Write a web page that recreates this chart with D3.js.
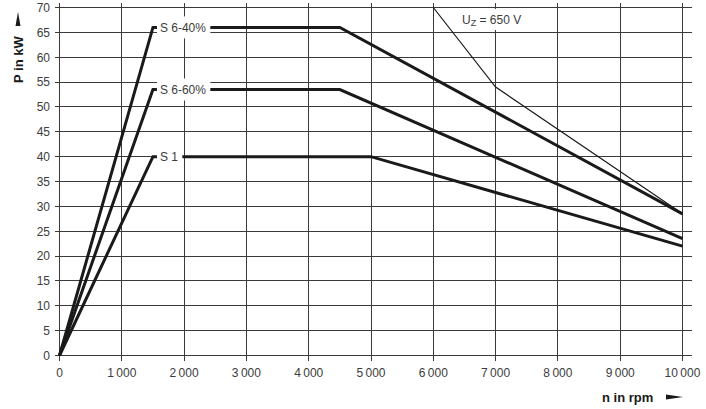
<!DOCTYPE html>
<html><head><meta charset="utf-8">
<script src="https://cdn.jsdelivr.net/npm/d3@7"></script>
<style>body{margin:0;background:#fff}svg{display:block}</style>
</head><body>
<svg id="c" width="706" height="409"></svg>
<script>
const xTicks = [0,1000,2000,3000,4000,5000,6000,7000,8000,9000,10000];
const xTickLabels = ["0","1\u2009000","2\u2009000","3\u2009000","4\u2009000","5\u2009000","6\u2009000","7\u2009000","8\u2009000","9\u2009000","10\u2009000"];
const yTicks = [0,5,10,15,20,25,30,35,40,45,50,55,60,65,70];
const seriesNames = ["S 6-40%","S 6-60%","S 1"];
const s640_n = [0,1500,4500,10000];
const s640_P = [0,66,66,28.5];
const s660_n = [0,1500,4500,10000];
const s660_P = [0,53.5,53.5,23.5];
const s1_n = [0,1500,5000,10000];
const s1_P = [0,40,40,22];
const uz_n = [6000,7000,10000];
const uz_P = [70,54,28.5];
const uzLabel = ["U","Z"," = 650 V"];
const xTitle = "n in rpm";
const yTitle = "P in kW";

const svg = d3.select("#c");
const x = d3.scaleLinear().domain([0,10000]).range([59.5,682.5]);
const y = d3.scaleLinear().domain([0,70]).range([355.5,7.5]);
const font = "'Liberation Sans', Arial, sans-serif";
const gridCol = "#3a3a3a";
const txtCol = "#3c3c3c";

// grid
const g = svg.append("g");
g.selectAll("line.h").data(yTicks).join("line")
  .attr("x1",55).attr("x2",692)
  .attr("y1",d=>Math.round(y(d)-0.5)+0.5).attr("y2",d=>Math.round(y(d)-0.5)+0.5)
  .attr("stroke",gridCol).attr("stroke-width",1);
g.selectAll("line.v").data(xTicks).join("line")
  .attr("y1",3).attr("y2",361)
  .attr("x1",d=>Math.round(x(d)-0.5)+0.5).attr("x2",d=>Math.round(x(d)-0.5)+0.5)
  .attr("stroke",gridCol).attr("stroke-width",1);

// tick labels
g.selectAll("text.y").data(yTicks).join("text")
  .attr("x",50).attr("y",d=>y(d)).attr("dy","0.36em")
  .attr("text-anchor","end").attr("font-family",font).attr("font-size",12)
  .attr("fill",txtCol).text(d=>d);
g.selectAll("text.x").data(xTicks).join("text")
  .attr("x",d=>x(d)).attr("y",377)
  .attr("text-anchor","middle").attr("font-family",font).attr("font-size",12)
  .attr("fill",txtCol).text((d,i)=>xTickLabels[i]);

// curves
const line = d3.line().x(d=>x(d[0])).y(d=>y(d[1]));
const series = [[s640_n,s640_P],[s660_n,s660_P],[s1_n,s1_P]];
series.forEach(([n,P])=>{
  svg.append("path").datum(n.map((v,i)=>[v,P[i]])).attr("d",line)
    .attr("fill","none").attr("stroke","#1a1a1a").attr("stroke-width",3)
    .attr("stroke-linejoin","miter");
});
svg.append("path").datum(uz_n.map((v,i)=>[v,uz_P[i]])).attr("d",line)
  .attr("fill","none").attr("stroke","#1a1a1a").attr("stroke-width",1.2);

// series labels with white boxes
series.forEach(([n,P],i)=>{
  const lx = x(n[1]) + 7, ly = y(P[1]);
  const t = svg.append("text").attr("x",lx).attr("y",ly).attr("dy","0.36em")
    .attr("font-family",font).attr("font-size",12).attr("fill",txtCol)
    .text(seriesNames[i]);
  const bb = t.node().getBBox();
  svg.insert("rect", function(){return t.node();})
    .attr("x",bb.x-3).attr("y",ly-11).attr("width",bb.width+7).attr("height",22)
    .attr("fill","#fff");
});

// Uz label
const ut = svg.append("text").attr("x",462).attr("y",24)
  .attr("font-family",font).attr("font-size",12).attr("fill",txtCol);
ut.append("tspan").text(uzLabel[0]);
ut.append("tspan").attr("font-size",9).attr("dy",1.5).text(uzLabel[1]);
ut.append("tspan").attr("dy",-1.5).text(uzLabel[2]);
const ub = ut.node().getBBox();
svg.insert("rect", function(){return ut.node();})
  .attr("x",ub.x-4).attr("y",9).attr("width",ub.width+8).attr("height",21).attr("fill","#fff");

// axis titles
svg.append("text").attr("transform","translate(23,83) rotate(-90)")
  .attr("font-family",font).attr("font-size",13).attr("font-weight","bold")
  .attr("fill","#1a1a1a").text(yTitle);
svg.append("path").attr("d","M18,12 L20.5,26 L15.5,26 Z").attr("fill","#1a1a1a");
svg.append("text").attr("x",602).attr("y",402)
  .attr("font-family",font).attr("font-size",13).attr("font-weight","bold")
  .attr("fill","#1a1a1a").text(xTitle);
svg.append("path").attr("d","M666,394.5 L683,397 L666,399.5 Z").attr("fill","#1a1a1a");
</script>
</body></html>
